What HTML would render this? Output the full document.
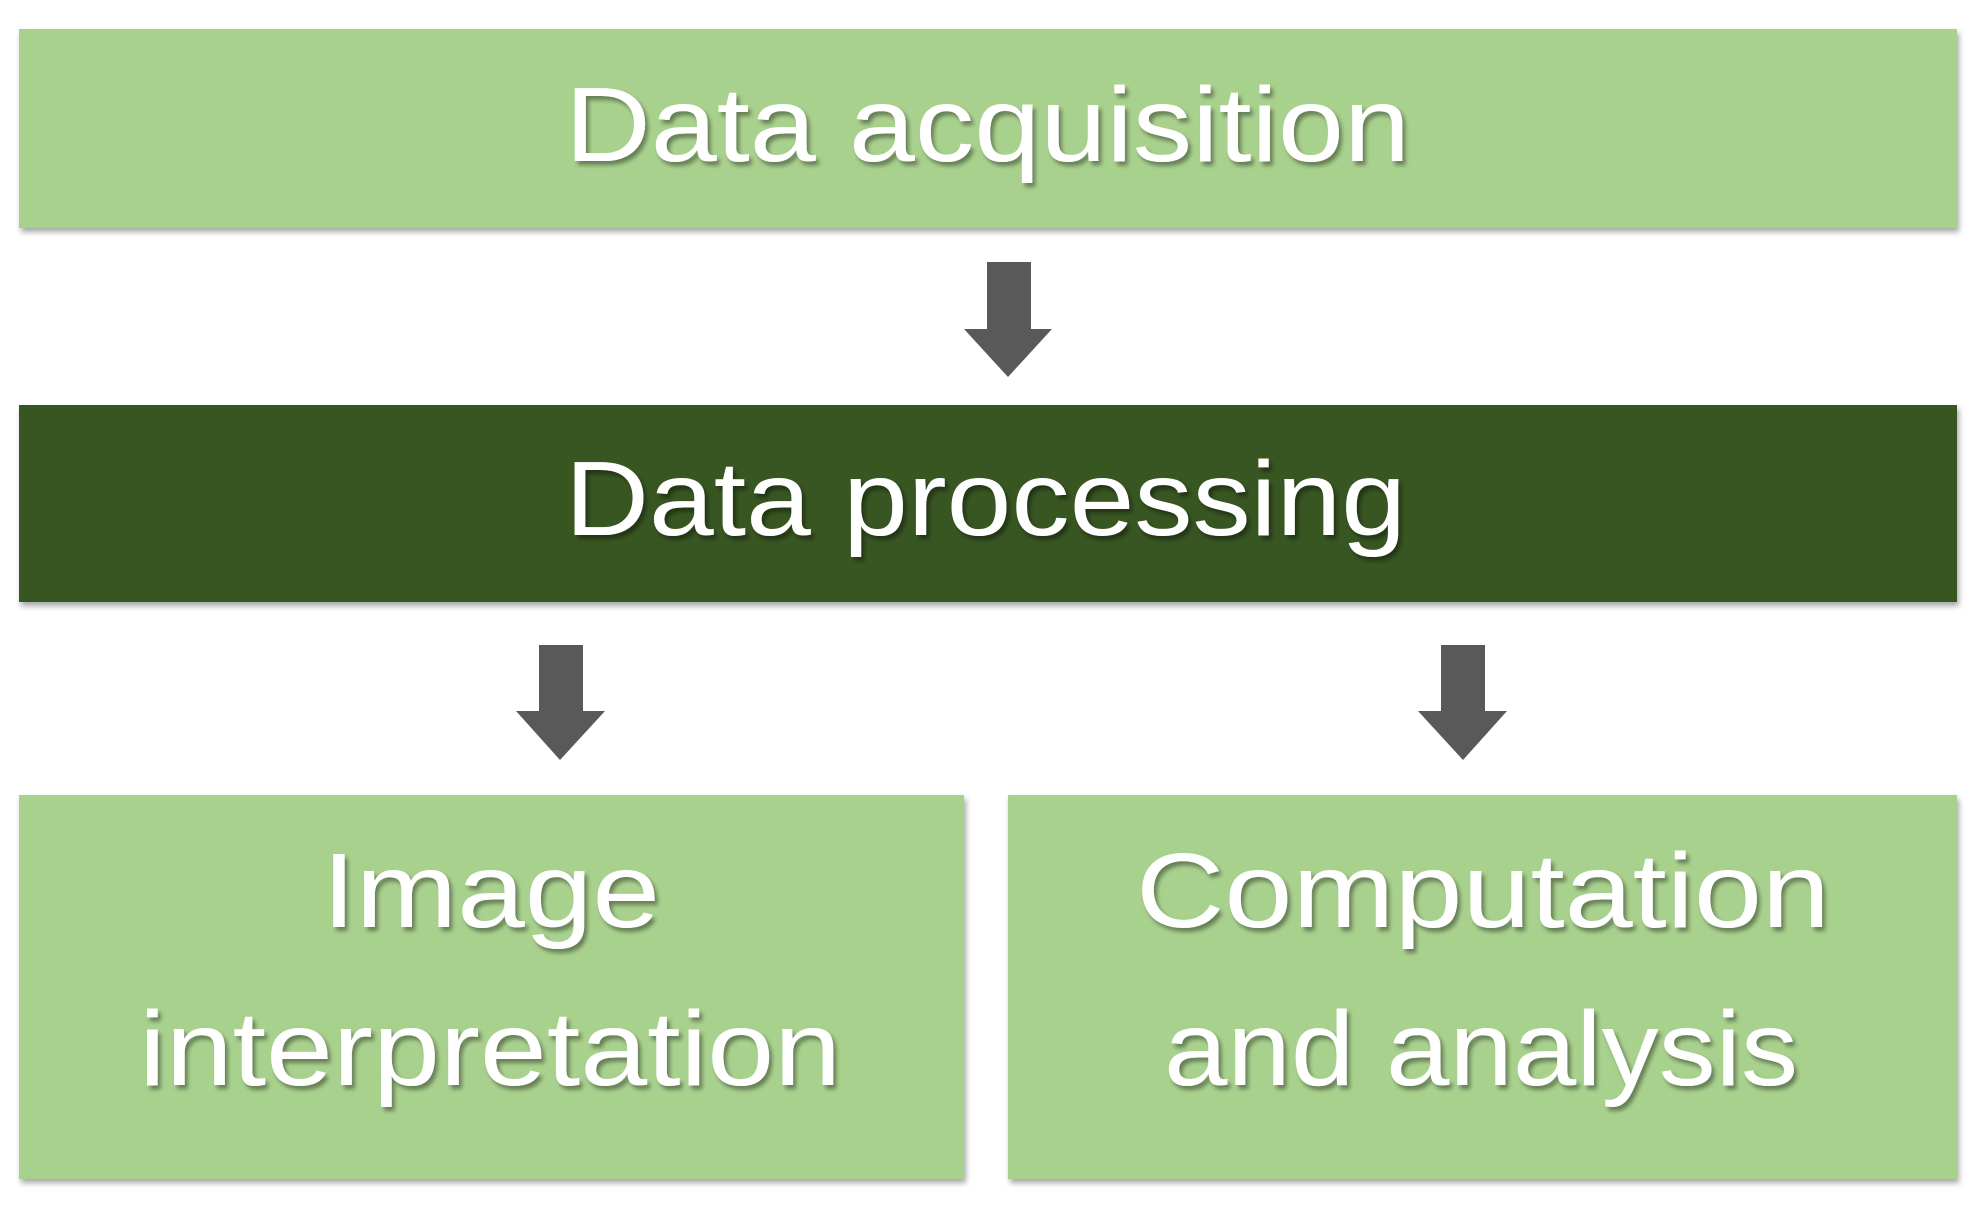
<!DOCTYPE html>
<html><head><style>body{margin:0;background:#fff}</style></head><body>
<svg width="1983" height="1209" xmlns="http://www.w3.org/2000/svg">
<defs>
<filter id="s" x="-5%" y="-5%" width="110%" height="120%"><feDropShadow dx="2" dy="4" stdDeviation="3" flood-color="#000" flood-opacity="0.35"/></filter>
<filter id="t"><feDropShadow dx="3" dy="4" stdDeviation="2" flood-color="#000" flood-opacity="0.4"/></filter>
</defs>
<rect x="19" y="29" width="1938" height="199" fill="#a9d18e" filter="url(#s)"/>
<rect x="19" y="405" width="1938" height="197" fill="#375623" filter="url(#s)"/>
<rect x="19" y="795" width="945" height="384" fill="#a9d18e" filter="url(#s)"/>
<rect x="1008" y="795" width="949" height="384" fill="#a9d18e" filter="url(#s)"/>
<g fill="#595959">
<polygon points="987,262 1031,262 1031,329 1052,329 1008,377 964,329 987,329"/>
<polygon points="539,645 583,645 583,711 605,711 560,760 516,711 539,711"/>
<polygon points="1441,645 1485,645 1485,711 1507,711 1463,760 1418,711 1441,711"/>
</g>
<g font-family="Liberation Sans, sans-serif" font-size="106" fill="#fff" filter="url(#t)">
<text x="565" y="161" textLength="845" lengthAdjust="spacingAndGlyphs">Data acquisition</text>
<text x="565" y="535" textLength="841" lengthAdjust="spacingAndGlyphs">Data processing</text>
<text x="322" y="927" textLength="338" lengthAdjust="spacingAndGlyphs">Image</text>
<text x="139" y="1085" textLength="702" lengthAdjust="spacingAndGlyphs">interpretation</text>
<text x="1136" y="927" textLength="694" lengthAdjust="spacingAndGlyphs">Computation</text>
<text x="1164" y="1085" textLength="634" lengthAdjust="spacingAndGlyphs">and analysis</text>
</g>
</svg>
</body></html>
